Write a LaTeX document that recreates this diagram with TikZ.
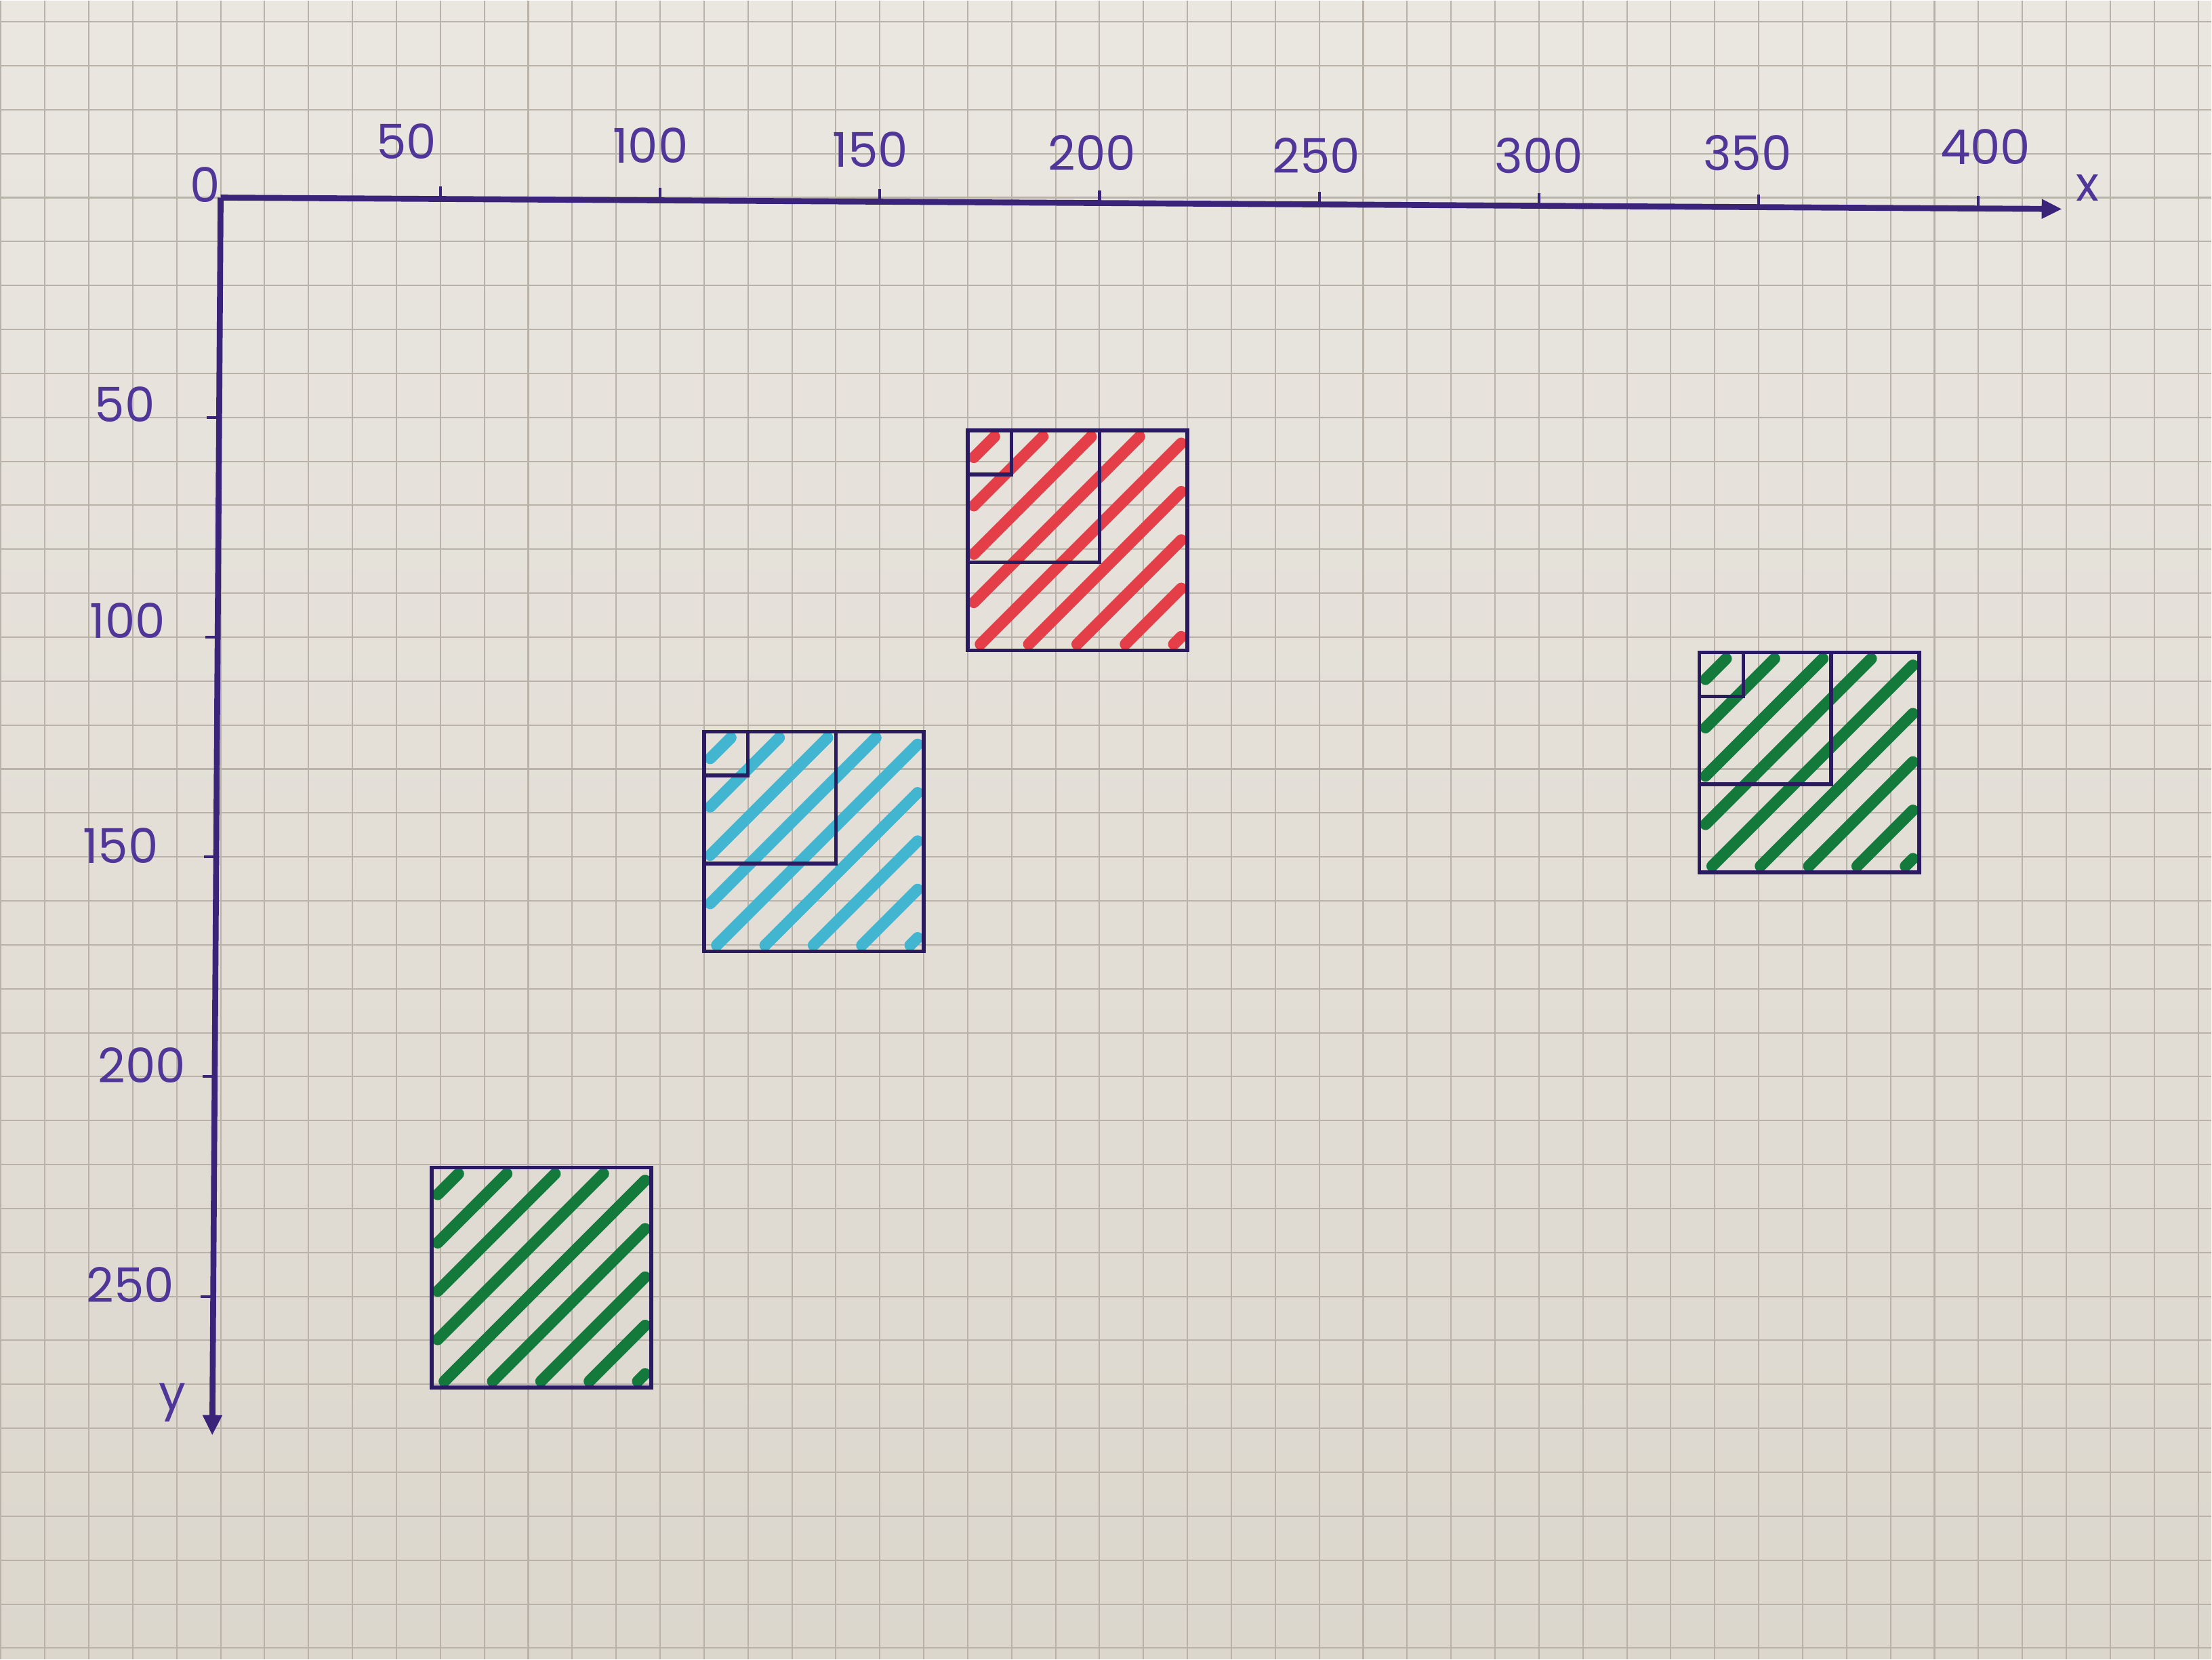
\documentclass[tikz,border=0pt]{standalone}
\usepackage{fontspec}
\setmainfont{Poppins}
\usepackage{tikz}
\usetikzlibrary{arrows.meta, calc}
\definecolor{paperlight}{RGB}{234,231,225}
\definecolor{paperdark}{RGB}{220,215,205}
\definecolor{gridgray}{RGB}{184,178,168}
\definecolor{ink}{RGB}{42,26,96}
\definecolor{axisink}{RGB}{58,36,122}
\definecolor{labelink}{RGB}{80,54,152}
\definecolor{hatchred}{RGB}{228,62,72}
\definecolor{hatchcyan}{RGB}{66,182,208}
\definecolor{hatchgreen}{RGB}{20,122,60}

\tikzset{
  gridline/.style={gridgray, line width=0.9pt},
  boxline/.style={ink, line width=2.4pt},
  hatchline/.style={line width=7.4pt, line cap=round},
  axisline/.style={axisink, line width=3.8pt},
  tickline/.style={axisink, line width=1.8pt},
  ticklabel/.style={labelink, font=\fontsize{31}{31}\selectfont},
}

% diagonal stripes inside a 50 x 50 square, #1,#2 = top-left corner
\newcommand{\hatchsquare}[3]{%
  \foreach \k in {0,...,8} {
    \pgfmathsetmacro{\hc}{7.5+11*\k}
    \ifdim\hc pt<50pt
      \draw[hatchline, #3] ({#1+1.4},{#2+\hc-1.4}) -- ({#1+\hc-1.4},{#2+1.4});
    \else
      \draw[hatchline, #3] ({#1+\hc-50+1.4},{#2+50-1.4}) -- ({#1+50-1.4},{#2+\hc-50+1.4});
    \fi
  }
}

\begin{document}
\begin{tikzpicture}[x=1mm, y=-1mm]
  % Paper
  \shade[top color=paperlight, bottom color=paperdark]
    (-50.05,-44.8) rectangle (453,332.49);
  \foreach \gx in {-50,-40,...,450} {
    \draw[gridline] (\gx,-44.8) -- (\gx,332.49);
  }
  \foreach \gy in {-40,-30,...,330} {
    \draw[gridline] (-50.05,\gy) -- (453,\gy);
  }

  % Hatched squares
  \hatchsquare{170}{53}{hatchred}
  \hatchsquare{110}{121.5}{hatchcyan}
  \hatchsquare{336.5}{103.5}{hatchgreen}
  \hatchsquare{48}{220.7}{hatchgreen}

  % Outlines
  \foreach \bx/\by in {170/53, 110/121.5, 336.5/103.5} {
    \draw[boxline] (\bx,\by) rectangle ++(50,50);
    \draw[boxline] (\bx,\by) rectangle ++(30,30);
    \draw[boxline] (\bx,\by) rectangle ++(10,10);
  }
  \draw[boxline] (48,220.7) rectangle ++(50,50);

  % Axes
  \coordinate (o) at (0,0);
  \coordinate (xend) at (419,2.6);
  \coordinate (yend) at (-1.9,281.6);
  \draw[axisline, -{Triangle[length=4.6mm, width=4.2mm]}] (o) -- (xend);
  \draw[axisline, -{Triangle[length=4.6mm, width=4.2mm]}] (o) -- (yend);
  \foreach \t in {50,100,...,400} {
    \draw[tickline] ({\t},{0.0062*\t}) -- ++(0,-2.8);
  }
  \foreach \t in {50,100,...,250} {
    \draw[tickline] ({-0.00675*\t},\t) -- ++(-2.8,0);
  }

  % Labels
  \node[ticklabel] (zero) at (-3.5,-2.9) {0};
  \foreach \t/\lx/\ly in {50/42.3/-12.8, 100/97.8/-11.8, 150/147.9/-10.9,
      200/198.3/-10.2, 250/249.3/-9.6, 300/300/-9.6, 350/347.4/-10.2,
      400/401.6/-11.5} {
    \node[ticklabel] (xlabel\t) at (\lx,\ly) {\t};
  }
  \foreach \t/\lx/\ly in {50/-21.8/47, 100/-21.2/96.3, 150/-22.8/147.5,
      200/-17.9/197.4, 250/-20.5/247.4} {
    \node[ticklabel] (ylabel\t) at (\lx,\ly) {\t};
  }
  \node[ticklabel] (xname) at (424.8,-2.2) {x};
  \node[ticklabel] (yname) at (-10.9,274.2) {y};
\end{tikzpicture}
\end{document}
